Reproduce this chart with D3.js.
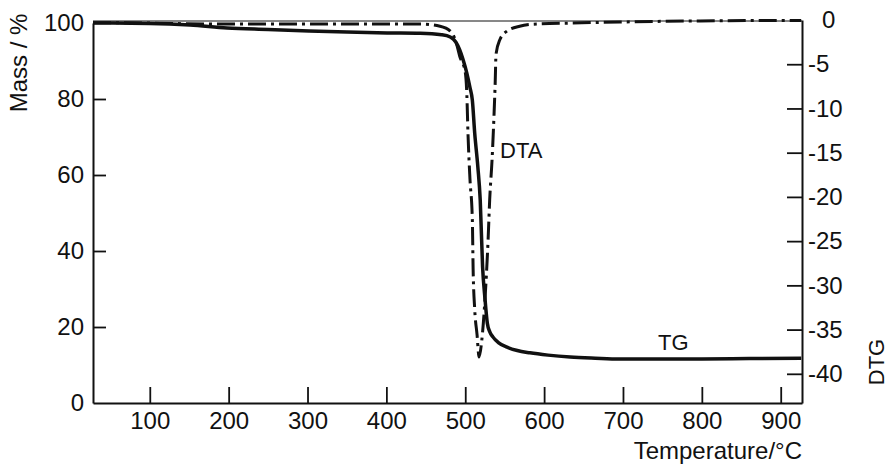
<!DOCTYPE html>
<html>
<head>
<meta charset="utf-8">
<script src="https://cdn.jsdelivr.net/npm/d3@7"></script>
<style>
  body { margin: 0; background: #fff; }
  text { font-family: "Liberation Sans", Arial, sans-serif; fill: #111; }
</style>
</head>
<body>
<div id="chart"></div>
<script>
// temperature (°C) / mass (%)
var tgTemp = [28, 100, 151, 198, 250, 302, 350, 401, 443, 470, 481, 488, 493, 497, 502, 506, 509, 512, 516, 519, 522, 525, 528, 531, 535, 542, 553, 566, 582, 605, 633, 665, 696, 750, 800, 860, 926];
var tgMass = [100, 99.9, 99.5, 98.7, 98.3, 97.9, 97.6, 97.4, 97.3, 96.9, 96.3, 95.0, 92.9, 90.5, 86.8, 83.0, 79.7, 71, 62.1, 53.4, 35.8, 27.5, 21, 18.8, 17.4, 15.9, 14.7, 13.8, 13.2, 12.6, 12.1, 11.8, 11.6, 11.6, 11.6, 11.7, 11.8];

// temperature (°C) / DTA value
var dtaTemp = [28, 100, 176, 290, 400, 443, 468, 481, 488, 493, 500, 502, 503.5, 506, 509, 510, 512, 515, 517.5, 521, 525, 529, 531, 534, 536.5, 538, 539, 544, 553, 569, 591, 633, 696, 798, 926];
var dtaVal = [-0.3, -0.35, -0.45, -0.45, -0.45, -0.45, -0.7, -1.25, -2.4, -4.1, -5.9, -8.4, -12.9, -18, -22.6, -28.2, -32.7, -35.6, -38.1, -36.2, -31.6, -24.8, -20.3, -15.8, -10.7, -7.0, -3.9, -2.2, -1.25, -0.7, -0.45, -0.35, -0.23, -0.1, -0.05];

var xTicks = [100, 200, 300, 400, 500, 600, 700, 800, 900];
var massTicks = [0, 20, 40, 60, 80, 100];
var dtgTicks = [0, -5, -10, -15, -20, -25, -30, -35, -40];

var mLeft = 93, mRight = 802, mTop = 21, mBottom = 403;

var svg = d3.select("#chart").append("svg")
    .attr("width", 890)
    .attr("height", 469);

var x = d3.scaleLinear().domain([28, 927]).range([mLeft, mRight]);
var yMass = d3.scaleLinear().domain([0, 100]).range([mBottom, 23]);
var yDtg = d3.scaleLinear().domain([-43.3, 0]).range([mBottom, mTop - 1]);

// axes, ticks pointing inward
var gx = svg.append("g")
    .attr("transform", "translate(0," + mBottom + ")")
    .call(d3.axisBottom(x).tickValues(xTicks).tickSizeInner(-16).tickSizeOuter(0).tickPadding(9));

var gl = svg.append("g")
    .attr("transform", "translate(" + mLeft + ",0)")
    .call(d3.axisLeft(yMass).tickValues(massTicks).tickSizeInner(-13).tickSizeOuter(0).tickPadding(9));

var gr = svg.append("g")
    .attr("transform", "translate(" + mRight + ",0)")
    .call(d3.axisRight(yDtg).tickValues(dtgTicks).tickSizeInner(-15).tickSizeOuter(0).tickPadding(6)
      .tickFormat(function(d) { return d === 0 ? "0" : "-" + Math.abs(d); }));

[gx, gl, gr].forEach(function(g) {
  g.select(".domain").attr("stroke", "#111").attr("stroke-width", 2);
  g.selectAll(".tick line").attr("stroke", "#111").attr("stroke-width", 1.8);
  g.selectAll(".tick text").style("font-size", "24px").style("font-family", "Liberation Sans, Arial, sans-serif").attr("fill", "#111");
});
gr.selectAll(".tick text").attr("x", function(d) { return d === 0 ? 20 : 6; });
gr.selectAll(".tick").filter(function(d) { return d === 0; }).select("line").remove();
gl.selectAll(".tick").filter(function(d) { return d === 0 || d === 100; }).select("line").remove();

// thin top border
svg.append("line")
    .attr("x1", mLeft).attr("x2", mRight)
    .attr("y1", mTop).attr("y2", mTop)
    .attr("stroke", "#111").attr("stroke-width", 1);

// TG curve
var tgLine = d3.line()
    .x(function(d, i) { return x(tgTemp[i]); })
    .y(function(d, i) { return yMass(tgMass[i]); })
    .curve(d3.curveMonotoneX);

svg.append("path")
    .attr("d", tgLine(tgTemp))
    .attr("fill", "none")
    .attr("stroke", "#111")
    .attr("stroke-width", 3.5);

// DTA curve
var dtaLine = d3.line()
    .x(function(d, i) { return x(dtaTemp[i]); })
    .y(function(d, i) { return yDtg(dtaVal[i]); })
    .curve(d3.curveMonotoneX);

svg.append("path")
    .attr("d", dtaLine(dtaTemp))
    .attr("fill", "none")
    .attr("stroke", "#111")
    .attr("stroke-width", 3)
    .attr("stroke-dasharray", "18,5,3,5");

// labels
svg.append("text")
    .attr("x", 500).attr("y", 158)
    .style("font-size", "22px")
    .text("DTA");

svg.append("text")
    .attr("x", 658).attr("y", 350)
    .style("font-size", "22px")
    .text("TG");

svg.append("text")
    .attr("x", mRight).attr("y", 459)
    .attr("text-anchor", "end")
    .style("font-size", "24px")
    .text("Temperature/°C");

svg.append("text")
    .attr("transform", "translate(27,63) rotate(-90)")
    .attr("text-anchor", "middle")
    .style("font-size", "24px")
    .text("Mass / %");

svg.append("text")
    .attr("transform", "translate(884,362) rotate(-90)")
    .attr("text-anchor", "middle")
    .style("font-size", "22px")
    .text("DTG");
</script>
</body>
</html>
